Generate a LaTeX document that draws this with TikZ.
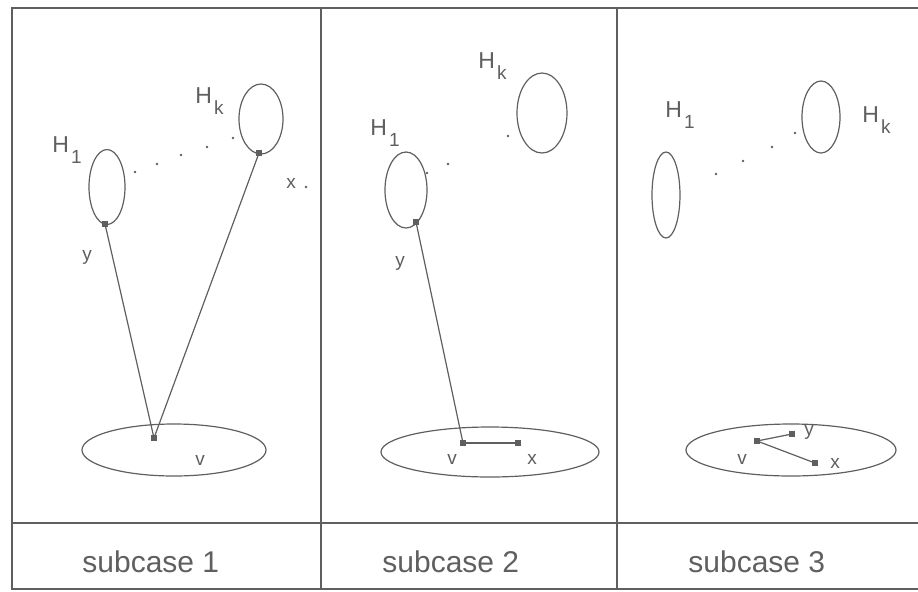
\documentclass[tikz,border=0pt]{standalone}
\usepackage{fontspec}
\setmainfont{Liberation Sans}
\usetikzlibrary{shapes.geometric}
\definecolor{inkgray}{RGB}{95,95,95}
\newcommand{\hname}[1]{H\hspace{1pt}\raisebox{-5.5pt}{\fontsize{9.5}{9.5}\selectfont #1}}

\begin{document}
\begin{tikzpicture}[
    x=0.5pt, y=-0.5pt,
    blob/.style={ellipse, draw=inkgray, line width=0.6pt, inner sep=0pt},
    vtx/.style={rectangle, fill=inkgray, minimum size=2.6pt, inner sep=0pt},
    pip/.style={circle, fill=inkgray, minimum size=1.3pt, inner sep=0pt},
    lab/.style={text=inkgray, font=\fontsize{9.5}{10}\selectfont, inner sep=0pt},
    hlab/.style={text=inkgray, font=\fontsize{11.5}{12}\selectfont, inner sep=0pt, anchor=base west},
    subcap/.style={text=inkgray, font=\fontsize{15}{16}\selectfont, inner sep=0pt, anchor=base west},
    edge/.style={draw=inkgray, line width=0.6pt},
    frame/.style={draw=inkgray, line width=0.8pt},
]
\useasboundingbox (0,0) rectangle (918,591);

% table frame
\draw[frame] (918,8) -- (12,8) -- (12,589) -- (918,589);
\draw[frame] (12,523) -- (918,523);
\draw[frame] (321,8) -- (321,589);
\draw[frame] (617,8) -- (617,589);

% subcase 1
\node[blob, minimum width=18pt, minimum height=37.5pt] (aH1) at (107,187) {};
\node[blob, minimum width=22pt, minimum height=35pt] (aHk) at (261,119) {};
\node[blob, minimum width=92pt, minimum height=26pt] (aC) at (174,450) {};
\node[hlab] (aH1lab) at (52,152) {\hname{1}};
\node[hlab] (aHklab) at (195,103) {\hname{k}};
\node[vtx] (ay) at (105,224) {};
\node[vtx] (ahk) at (259,153) {};
\node[vtx] (av) at (154,438) {};
\node[pip] (ax) at (306,187) {};
\node[lab] (aylab) at (87,257) {y};
\node[lab] (avlab) at (200,460) {v};
\node[lab] (axlab) at (291,183) {x};
\draw[edge] (ay) -- (av);
\draw[edge] (ahk) -- (av);
\foreach \px/\py [count=\i] in {135/172, 157/164, 181/155, 207/147, 233/138}
  \node[pip] (adot\i) at (\px,\py) {};
\node[subcap] (acap) at (82,572) {subcase 1};

% subcase 2
\node[blob, minimum width=21pt, minimum height=38pt] (bH1) at (406,190) {};
\node[blob, minimum width=25pt, minimum height=40pt] (bHk) at (542,113) {};
\node[blob, minimum width=109pt, minimum height=25pt] (bC) at (490,452) {};
\node[hlab] (bH1lab) at (370,135) {\hname{1}};
\node[hlab] (bHklab) at (478,68) {\hname{k}};
\node[vtx] (by) at (416,222) {};
\node[vtx] (bv) at (463,443) {};
\node[vtx] (bx) at (518,443) {};
\node[lab] (bylab) at (400,263) {y};
\node[lab] (bvlab) at (452,459) {v};
\node[lab] (bxlab) at (532,459) {x};
\draw[edge] (by) -- (bv);
\draw[edge] (bv) -- (bx);
\foreach \px/\py [count=\i] in {427/173, 448/164, 508/136}
  \node[pip] (bdot\i) at (\px,\py) {};
\node[subcap] (bcap) at (382,572) {subcase 2};

% subcase 3
\node[blob, minimum width=14pt, minimum height=43pt] (cH1) at (666,195) {};
\node[blob, minimum width=19pt, minimum height=36pt] (cHk) at (821,117) {};
\node[blob, minimum width=105pt, minimum height=26pt] (cC) at (791,450) {};
\node[hlab] (cH1lab) at (665,117) {\hname{1}};
\node[hlab] (cHklab) at (862,122) {\hname{k}};
\node[vtx] (cv) at (757,441) {};
\node[vtx] (cy) at (792,434) {};
\node[vtx] (cx) at (815,463) {};
\node[lab] (cvlab) at (742,459) {v};
\node[lab] (cylab) at (809,432) {y};
\node[lab] (cxlab) at (835,463) {x};
\draw[edge] (cv) -- (cy);
\draw[edge] (cv) -- (cx);
\foreach \px/\py [count=\i] in {716/174, 743/161, 772/147, 795/133}
  \node[pip] (cdot\i) at (\px,\py) {};
\node[subcap] (ccap) at (688,572) {subcase 3};

\end{tikzpicture}
\end{document}
